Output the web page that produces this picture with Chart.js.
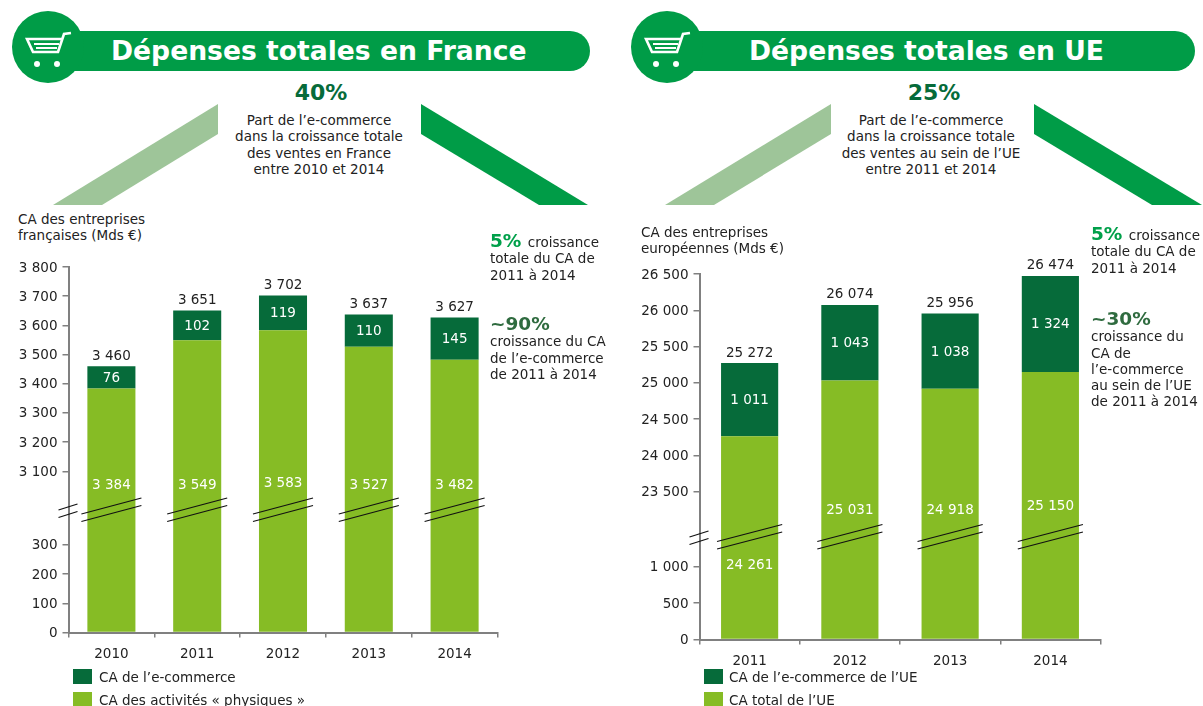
<!DOCTYPE html>
<html lang="fr">
<head>
<meta charset="utf-8">
<title>Dépenses totales en France et en UE</title>
<script src="https://cdn.jsdelivr.net/npm/chart.js@4/dist/chart.umd.min.js"></script>
<style>
  html, body { margin: 0; padding: 0; background: #fff; }
  #page { position: relative; width: 1203px; height: 706px; overflow: hidden; font-family: "DejaVu Sans", sans-serif; font-size: 13.5px; color: #222; }
  #page > * { position: absolute; }
  #deco { left: 0; top: 0; }
  .banner { color: #fff; font-weight: bold; font-size: 26.6px; line-height: 40px; top: 31px; white-space: nowrap; }
  .big { font-weight: bold; font-size: 22px; line-height: 26px; color: #066b3a; text-align: center; }
  .txt { line-height: 16.3px; white-space: nowrap; }
  .center { text-align: center; }
  .pct { font-weight: bold; font-size: 18.5px; }
  .g1 { color: #00a04a; margin-right: 2px; }
  .g2 { color: #2f6b3f; }
  .sw { width: 19px; height: 15px; }
  canvas { display: block; }
</style>
</head>
<body>
<div id="page">
  <svg id="deco" width="1203" height="706">
    <!-- bandeaux -->
    <rect x="45" y="31" width="545" height="40" rx="20" fill="#009c47"/>
    <circle cx="48" cy="47" r="36" fill="#009c47"/>
    <rect x="665" y="31" width="530" height="40" rx="20" fill="#009c47"/>
    <circle cx="667" cy="47" r="36" fill="#009c47"/>
    <!-- caddies -->
    <g id="cart" fill="none" stroke="#fff" stroke-width="2.6">
      <path d="M71 33 L64 34 L58 52 L33 52 L27 39 L62 39"/>
      <path d="M34 44 L59 44 M36 48 L57 48" stroke-width="2"/>
      <circle cx="37" cy="64" r="3" fill="#fff" stroke="none"/>
      <circle cx="57" cy="64" r="3" fill="#fff" stroke="none"/>
    </g>
    <use href="#cart" x="619"/>
    <!-- fleches -->
    <polygon points="53,205 102,205 218,134 218,104" fill="#9ec599"/>
    <polygon points="421,104 421,134 539,205 588,205" fill="#009c47"/>
    <polygon points="665,205 714,205 831,134 831,104" fill="#9ec599"/>
    <polygon points="1034,104 1034,134 1152,205 1202,205" fill="#009c47"/>
  </svg>

  <div class="banner" style="left:111px">Dépenses totales en France</div>
  <div class="banner" style="left:749px">Dépenses totales en UE</div>

  <div class="big" style="left:221px;width:200px;top:80px">40%</div>
  <div class="txt center" style="left:219px;width:200px;top:112px">Part de l’e-commerce<br>dans la croissance totale<br>des ventes en France<br>entre 2010 et 2014</div>
  <div class="big" style="left:834px;width:200px;top:80px">25%</div>
  <div class="txt center" style="left:831px;width:200px;top:112px">Part de l’e-commerce<br>dans la croissance totale<br>des ventes au sein de l’UE<br>entre 2011 et 2014</div>

  <canvas id="chartFr" width="510" height="456" style="left:0;top:250px"></canvas>
  <canvas id="chartUe" width="500" height="456" style="left:620px;top:250px"></canvas>

  <div class="txt" style="left:18px;top:211px">CA des entreprises<br>françaises (Mds €)</div>
  <div class="txt" style="left:641px;top:224px">CA des entreprises<br>européennes (Mds €)</div>

  <div class="txt" style="left:490px;top:233px"><span class="pct g1">5%</span> croissance<br>totale du CA de<br>2011 à 2014</div>
  <div class="txt" style="left:490px;top:316px"><span class="pct g2">~90%</span><br>croissance du CA<br>de l’e-commerce<br>de 2011 à 2014</div>
  <div class="txt" style="left:1091px;top:226px"><span class="pct g1">5%</span> croissance<br>totale du CA de<br>2011 à 2014</div>
  <div class="txt" style="left:1091px;top:311px"><span class="pct g2">~30%</span><br>croissance du<br>CA de<br>l’e-commerce<br>au sein de l’UE<br>de 2011 à 2014</div>

  <div class="sw" style="left:73px;top:669px;background:#066b3a"></div>
  <div class="txt" style="left:99px;top:669px" id="legFr1"></div>
  <div class="sw" style="left:73px;top:692px;background:#86bc25"></div>
  <div class="txt" style="left:99px;top:692px" id="legFr2"></div>
  <div class="sw" style="left:704px;top:669px;background:#066b3a"></div>
  <div class="txt" style="left:729px;top:669px" id="legUe1"></div>
  <div class="sw" style="left:704px;top:692px;background:#86bc25"></div>
  <div class="txt" style="left:729px;top:692px" id="legUe2"></div>
</div>

<script>
  // Données France
  const yearsFr = ["2010", "2011", "2012", "2013", "2014"];
  const physiqueFr = [3384, 3549, 3583, 3527, 3482];
  const ecommerceFr = [76, 102, 119, 110, 145];
  const totalFr = [3460, 3651, 3702, 3637, 3627];
  const ticksFr = [0, 100, 200, 300, 3100, 3200, 3300, 3400, 3500, 3600, 3700, 3800];
  const namesFr = ["CA de l’e-commerce", "CA des activités « physiques »"];

  // Données UE
  const yearsUe = ["2011", "2012", "2013", "2014"];
  const physiqueUe = [24261, 25031, 24918, 25150];
  const ecommerceUe = [1011, 1043, 1038, 1324];
  const totalUe = [25272, 26074, 25956, 26474];
  const ticksUe = [0, 500, 1000, 23500, 24000, 24500, 25000, 25500, 26000, 26500];
  const namesUe = ["CA de l’e-commerce de l’UE", "CA total de l’UE"];

  // Axe linéaire avec une coupure entre breakLow et breakHigh
  class BrokenScale extends Chart.LinearScale {
    squeeze(v) {
      const { breakLow, breakHigh, breakGap } = this.options;
      if (v <= breakLow) return v;
      if (v >= breakHigh) return v - (breakHigh - breakLow) + breakGap;
      return breakLow + (breakGap * (v - breakLow)) / (breakHigh - breakLow);
    }
    getPixelForValue(v) {
      const lo = this.squeeze(this.min);
      const hi = this.squeeze(this.max);
      return this.getPixelForDecimal((this.squeeze(v) - lo) / (hi - lo));
    }
  }
  BrokenScale.id = "broken";
  BrokenScale.defaults = Chart.LinearScale.defaults;
  Chart.register(BrokenScale);

  function fmt(v) {
    return String(v).replace(/\B(?=(\d{3})+$)/g, "\u00a0");
  }

  // Étiquettes des barres et traits de coupure
  const barDecor = {
    id: "barDecor",
    afterDraw(chart, args, opts) {
      const ctx = chart.ctx;
      const y = chart.scales.y;
      const metaPhys = chart.getDatasetMeta(0);
      const metaEcom = chart.getDatasetMeta(1);
      ctx.save();
      ctx.font = '13.5px "DejaVu Sans"';
      ctx.textAlign = "center";
      ctx.textBaseline = "middle";
      metaPhys.data.forEach((bar, i) => {
        const top = metaEcom.data[i];
        ctx.fillStyle = "#fff";
        ctx.fillText(fmt(chart.data.datasets[0].data[i]), bar.x, y.getPixelForValue(opts.breakHigh) + opts.labelShift[i]);
        ctx.fillText(fmt(chart.data.datasets[1].data[i]), top.x, (top.y + top.base) / 2 + 1);
        ctx.fillStyle = "#222";
        ctx.fillText(fmt(opts.totals[i]), top.x, top.y - 10);

        // double trait en travers de la barre
        const x1 = bar.x - bar.width / 2 - opts.over;
        const x2 = bar.x + bar.width / 2 + opts.over;
        ctx.strokeStyle = "#111";
        ctx.lineWidth = 1.2;
        [0, opts.lineGap].forEach((d) => {
          ctx.beginPath();
          ctx.moveTo(x1, opts.breakY + opts.rise / 2 + d);
          ctx.lineTo(x2, opts.breakY - opts.rise / 2 + d);
          ctx.stroke();
        });
      });
      // double trait sur l'axe
      const ax = y.right;
      [0, opts.lineGap].forEach((d) => {
        ctx.beginPath();
        ctx.moveTo(ax - 10, opts.axisY + 3 + d);
        ctx.lineTo(ax + 9, opts.axisY - 3 + d);
        ctx.stroke();
      });
      ctx.restore();
    },
  };

  function createChart(id, labels, phys, ecom, totals, names, ticks, cfg) {
    const ctx = document.getElementById(id).getContext("2d");
    return new Chart(ctx, {
      type: "bar",
      plugins: [barDecor],
      data: {
        labels: labels,
        datasets: [
          { label: names[1], data: phys, backgroundColor: "#86bc25", barPercentage: cfg.barPct, categoryPercentage: 1 },
          { label: names[0], data: ecom, backgroundColor: "#066b3a", barPercentage: cfg.barPct, categoryPercentage: 1 },
        ],
      },
      options: {
        responsive: false,
        animation: false,
        events: [],
        layout: { padding: { top: cfg.top, right: cfg.right, left: 0, bottom: 0 } },
        plugins: {
          legend: { display: false },
          tooltip: { enabled: false },
          barDecor: {
            totals: totals,
            breakHigh: cfg.breakHigh,
            labelShift: cfg.labelShift,
            over: cfg.over,
            breakY: cfg.breakY,
            axisY: cfg.axisY,
            rise: cfg.rise,
            lineGap: 7.5,
          },
        },
        scales: {
          x: {
            stacked: true,
            afterFit: (s) => { s.height = cfg.xHeight; },
            border: { color: "#808080", width: 2 },
            grid: { drawOnChartArea: false, color: "#808080", lineWidth: 1.5, tickLength: 5 },
            ticks: { color: "#222", font: { family: "DejaVu Sans", size: 13.5 }, padding: 9, maxRotation: 0 },
          },
          y: {
            type: "broken",
            stacked: true,
            min: 0,
            max: cfg.max,
            breakLow: cfg.breakLow,
            breakHigh: cfg.breakHigh,
            breakGap: cfg.breakGap,
            afterFit: (s) => { s.width = cfg.yWidth; },
            afterBuildTicks: (s) => { s.ticks = ticks.map((v) => ({ value: v })); },
            border: { color: "#808080", width: 2 },
            grid: { drawOnChartArea: false, color: "#808080", lineWidth: 1.5, tickLength: 6 },
            ticks: { color: "#222", font: { family: "DejaVu Sans", size: 13.5 }, padding: 5, labelOffset: 1, autoSkip: false, callback: (v) => fmt(v) },
          },
        },
      },
    });
  }

  document.addEventListener("DOMContentLoaded", function () {
    document.getElementById("legFr1").textContent = namesFr[0];
    document.getElementById("legFr2").textContent = namesFr[1];
    document.getElementById("legUe1").textContent = namesUe[0];
    document.getElementById("legUe2").textContent = namesUe[1];

    createChart("chartFr", yearsFr, physiqueFr, ecommerceFr, totalFr, namesFr, ticksFr, {
      top: 17, right: 12.5, xHeight: 73.5, yWidth: 68.5, barPct: 0.56, max: 3800,
      breakLow: 300, breakHigh: 3100, breakGap: 252,
      labelShift: [14, 14, 12, 14, 14], over: 6, breakY: 256, axisY: 257, rise: 16,
    });
    createChart("chartUe", yearsUe, physiqueUe, ecommerceUe, totalUe, namesUe, ticksUe, {
      top: 24, right: 19.5, xHeight: 66.5, yWidth: 79.5, barPct: 0.57, max: 26500,
      breakLow: 1000, breakHigh: 23500, breakGap: 1041,
      labelShift: [74, 19, 19, 15], over: 4, breakY: 283, axisY: 284, rise: 17,
    });
  });
</script>
</body>
</html>
